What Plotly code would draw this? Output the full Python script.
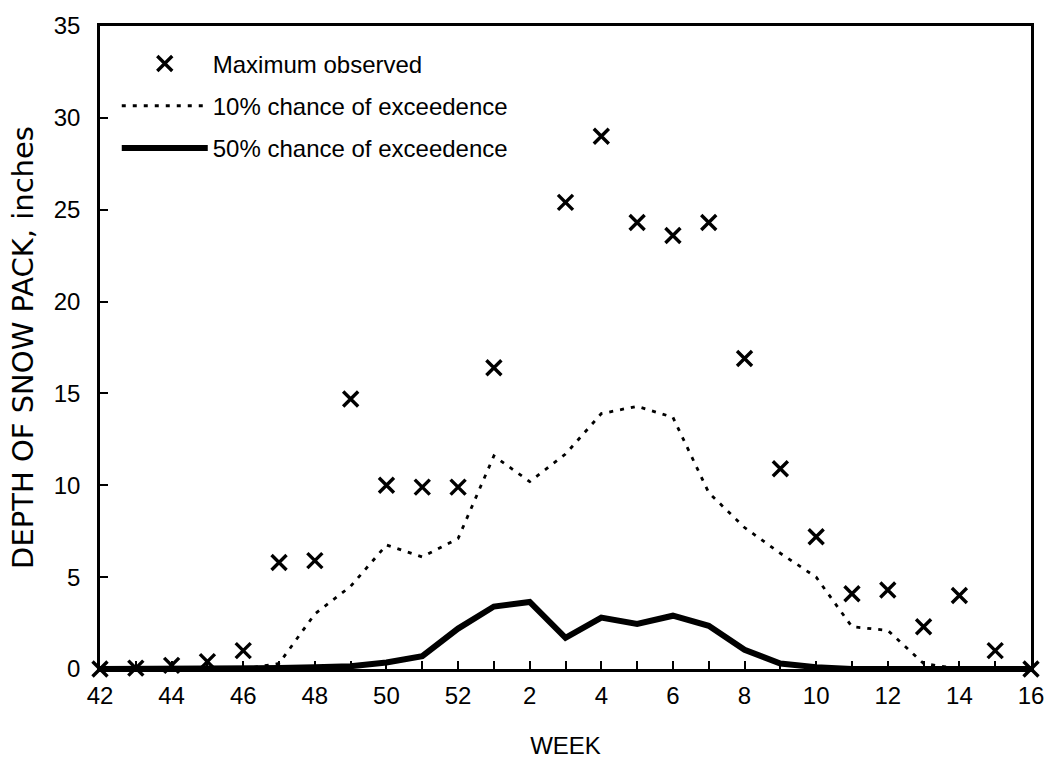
import plotly.graph_objects as go

weeks = [42, 43, 44, 45, 46, 47, 48, 49, 50, 51, 52,
         1, 2, 3, 4, 5, 6, 7, 8, 9, 10, 11, 12, 13, 14, 15, 16]
max_observed = [0, 0.05, 0.2, 0.4, 1.0, 5.8, 5.9, 14.7, 10.0, 9.9, 9.9,
                16.4, None, 25.4, 29.0, 24.3, 23.6, 24.3, 16.9, 10.9, 7.2, 4.1, 4.3, 2.3, 4.0, 1.0, 0]
chance_10 = [0, 0, 0, 0, 0, 0.3, 3.0, 4.5, 6.75, 6.1, 7.1,
             11.6, 10.2, 11.7, 13.9, 14.3, 13.7, 9.6, 7.7, 6.3, 5.0, 2.3, 2.1, 0.3, 0, 0, 0]
chance_50 = [0, 0, 0, 0, 0, 0.05, 0.1, 0.15, 0.35, 0.7, 2.2,
             3.4, 3.65, 1.7, 2.8, 2.45, 2.9, 2.35, 1.05, 0.3, 0.1, 0, 0, 0, 0, 0, 0]
y_ticks = [0, 5, 10, 15, 20, 25, 30, 35]

idx = list(range(len(weeks)))
tick_text = [str(w) if i % 2 == 0 else "" for i, w in enumerate(weeks)]

FONT = "Liberation Sans, Arial, Helvetica, sans-serif"

fig = go.Figure()
fig.add_trace(go.Scatter(
    x=idx, y=max_observed, mode="markers", name="Maximum observed",
    legendgroup="a",
    marker=dict(symbol="x-thin", size=15, color="black",
                line=dict(width=3.4, color="black")),
    cliponaxis=False,
))
fig.add_trace(go.Scatter(
    x=idx, y=chance_10, mode="lines", name="10% chance of exceedence",
    legendgroup="b",
    line=dict(color="black", width=2.8, dash="4px,7px"),
))
fig.add_trace(go.Scatter(
    x=idx, y=chance_50, mode="lines", name="50% chance of exceedence",
    legendgroup="c",
    line=dict(color="black", width=6),
    cliponaxis=False,
))

fig.update_layout(
    width=1056, height=767,
    margin=dict(l=100, r=24, t=23, b=98),
    paper_bgcolor="white", plot_bgcolor="white",
    font=dict(family=FONT, size=24, color="black"),
    showlegend=True,
    legend=dict(
        x=0.018, y=0.976, xanchor="left", yanchor="top",
        bgcolor="rgba(0,0,0,0)", borderwidth=0,
        font=dict(family=FONT, size=24, color="black"),
        traceorder="grouped", tracegroupgap=8, itemwidth=86,
    ),
    xaxis=dict(
        range=[0, 26], tickmode="array", tickvals=idx, ticktext=tick_text,
        ticks="inside", ticklen=8, tickwidth=2, tickcolor="black",
        showline=True, linecolor="black", linewidth=2.5, mirror=True,
        showgrid=False, zeroline=False, ticklabelstandoff=3,
        title=dict(text="WEEK", font=dict(size=24), standoff=30),
        tickfont=dict(size=24),
    ),
    yaxis=dict(
        range=[0, 35], tickmode="array", tickvals=y_ticks,
        ticks="inside", ticklen=8, tickwidth=2, tickcolor="black",
        showline=True, linecolor="black", linewidth=2.5, mirror=True,
        showgrid=False, zeroline=False, ticklabelstandoff=12,
        title=dict(text="DEPTH OF SNOW PACK, inches",
                   font=dict(family="DejaVu Sans, Liberation Sans, sans-serif", size=29),
                   standoff=12),
        tickfont=dict(size=24),
    ),
)

fig.write_html("out.html")
